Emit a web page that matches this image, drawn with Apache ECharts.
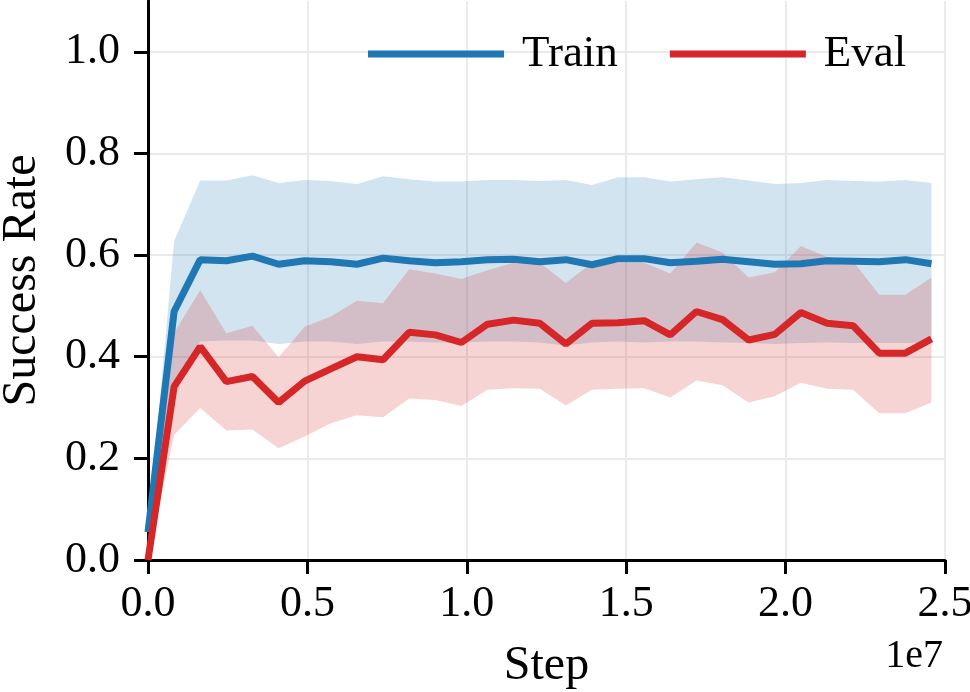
<!DOCTYPE html>
<html>
<head>
<meta charset="utf-8">
<script src="https://cdn.jsdelivr.net/npm/echarts@6/dist/echarts.min.js"></script>
<style>html,body{margin:0;padding:0;background:#fff}#c{width:970px;height:692px}</style>
</head>
<body>
<div id="c"></div>
<script>
const steps = [0, 819200, 1638400, 2457600, 3276800, 4096000, 4915200, 5734400, 6553600, 7372800, 8192000, 9011200, 9830400, 10649600, 11468800, 12288000, 13107200, 13926400, 14745600, 15564800, 16384000, 17203200, 18022400, 18841600, 19660800, 20480000, 21299200, 22118400, 22937600, 23756800, 24576000];
const trainMean = [0.055, 0.489, 0.591, 0.589, 0.598, 0.582, 0.589, 0.587, 0.582, 0.594, 0.589, 0.585, 0.587, 0.591, 0.592, 0.587, 0.591, 0.581, 0.593, 0.593, 0.585, 0.588, 0.592, 0.587, 0.582, 0.583, 0.589, 0.588, 0.587, 0.591, 0.583];
const trainUpper = [0.055, 0.627, 0.747, 0.747, 0.757, 0.742, 0.748, 0.746, 0.740, 0.755, 0.749, 0.745, 0.745, 0.748, 0.748, 0.746, 0.748, 0.738, 0.753, 0.753, 0.745, 0.749, 0.753, 0.747, 0.740, 0.742, 0.748, 0.746, 0.745, 0.748, 0.742];
const trainLower = [0.055, 0.35, 0.43, 0.432, 0.432, 0.425, 0.43, 0.43, 0.425, 0.43, 0.43, 0.428, 0.428, 0.43, 0.43, 0.428, 0.422, 0.428, 0.43, 0.428, 0.43, 0.43, 0.428, 0.427, 0.425, 0.427, 0.428, 0.427, 0.427, 0.427, 0.428];
const evalMean = [0, 0.341, 0.420, 0.351, 0.361, 0.310, 0.352, 0.376, 0.400, 0.394, 0.448, 0.443, 0.428, 0.464, 0.472, 0.466, 0.425, 0.466, 0.467, 0.471, 0.443, 0.489, 0.473, 0.433, 0.444, 0.487, 0.466, 0.461, 0.407, 0.407, 0.435];
const evalUpper = [0, 0.447, 0.531, 0.446, 0.461, 0.399, 0.459, 0.479, 0.510, 0.505, 0.572, 0.564, 0.553, 0.57, 0.585, 0.585, 0.545, 0.585, 0.585, 0.585, 0.564, 0.625, 0.605, 0.556, 0.566, 0.618, 0.596, 0.588, 0.522, 0.522, 0.556];
const evalLower = [0, 0.246, 0.299, 0.255, 0.257, 0.220, 0.243, 0.269, 0.285, 0.281, 0.318, 0.315, 0.303, 0.335, 0.338, 0.337, 0.304, 0.335, 0.337, 0.338, 0.320, 0.353, 0.344, 0.310, 0.322, 0.349, 0.337, 0.335, 0.289, 0.289, 0.310];
const xTicks = [0, 5000000, 10000000, 15000000, 20000000, 25000000];
const yTicks = [0, 0.2, 0.4, 0.6, 0.8, 1.0];
const seriesNames = ['Train', 'Eval'];
const colors = ['#1f77b4', '#d62728'];

const FONT = 'Liberation Serif';

function bandSeries(lower, upper, color) {
  return {
    type: 'custom',
    silent: true,
    z: 1,
    data: steps.map((s, i) => [s, lower[i], upper[i]]),
    encode: { x: 0, y: [1, 2] },
    renderItem: function (params, api) {
      if (params.dataIndex !== 0) return null;
      const pts = [];
      for (let i = 0; i < steps.length; i++) pts.push(api.coord([steps[i], upper[i]]));
      for (let i = steps.length - 1; i >= 0; i--) pts.push(api.coord([steps[i], lower[i]]));
      return { type: 'polygon', shape: { points: pts }, style: { fill: color, opacity: 0.2 } };
    }
  };
}

function lineSeries(name, vals, color) {
  return {
    name: name,
    type: 'line',
    z: 3,
    showSymbol: false,
    symbol: 'none',
    data: steps.map((s, i) => [s, vals[i]]),
    lineStyle: { color: color, width: 7 },
    itemStyle: { color: color }
  };
}

const chart = echarts.init(document.getElementById('c'), null, { renderer: 'canvas' });
chart.setOption({
  animation: false,
  backgroundColor: '#fff',
  textStyle: { fontFamily: FONT },
  grid: { left: 148, right: 25, top: 1, bottom: 132, containLabel: false, outerBoundsMode: 'none' },
  legend: {
    data: seriesNames,
    left: 363, top: 24,
    icon: 'rect',
    itemWidth: 136, itemHeight: 7, itemGap: 52,
    textStyle: { fontFamily: FONT, fontSize: 45, color: '#000', padding: [0, 0, 0, 13], lineHeight: 50 }
  },
  xAxis: {
    type: 'value', min: 0, max: 25000000, interval: 5000000,
    name: 'Step', nameLocation: 'middle', nameGap: 82,
    nameTextStyle: { fontFamily: FONT, fontSize: 48, color: '#000' },
    axisLine: { lineStyle: { color: '#000', width: 3 } },
    axisTick: { show: true, length: 14, lineStyle: { color: '#000', width: 3 } },
    axisLabel: { fontFamily: FONT, fontSize: 44, color: '#000', margin: 22,
      formatter: v => (v / 1e7).toFixed(1) },
    splitLine: { show: true, lineStyle: { color: '#ebebeb', width: 2 } }
  },
  yAxis: {
    type: 'value', min: 0, max: 1.1, interval: 0.2,
    name: 'Success Rate', nameLocation: 'middle', nameGap: 102, nameRotate: 90,
    nameTextStyle: { fontFamily: FONT, fontSize: 48, color: '#000' },
    axisLine: { lineStyle: { color: '#000', width: 3 } },
    axisTick: { show: true, length: 14, lineStyle: { color: '#000', width: 3 }, customValues: yTicks },
    axisLabel: { fontFamily: FONT, fontSize: 44, color: '#000', margin: 28, customValues: yTicks,
      formatter: v => v.toFixed(1) },
    splitLine: { show: true, lineStyle: { color: '#ebebeb', width: 2 } }
  },
  graphic: [{
    type: 'text', right: 27, top: 636,
    style: { text: '1e7', font: '40px "Liberation Serif"', fill: '#000' }
  }],
  series: [
    bandSeries(trainLower, trainUpper, colors[0]),
    bandSeries(evalLower, evalUpper, colors[1]),
    lineSeries(seriesNames[0], trainMean, colors[0]),
    lineSeries(seriesNames[1], evalMean, colors[1])
  ]
});
</script>
</body>
</html>
